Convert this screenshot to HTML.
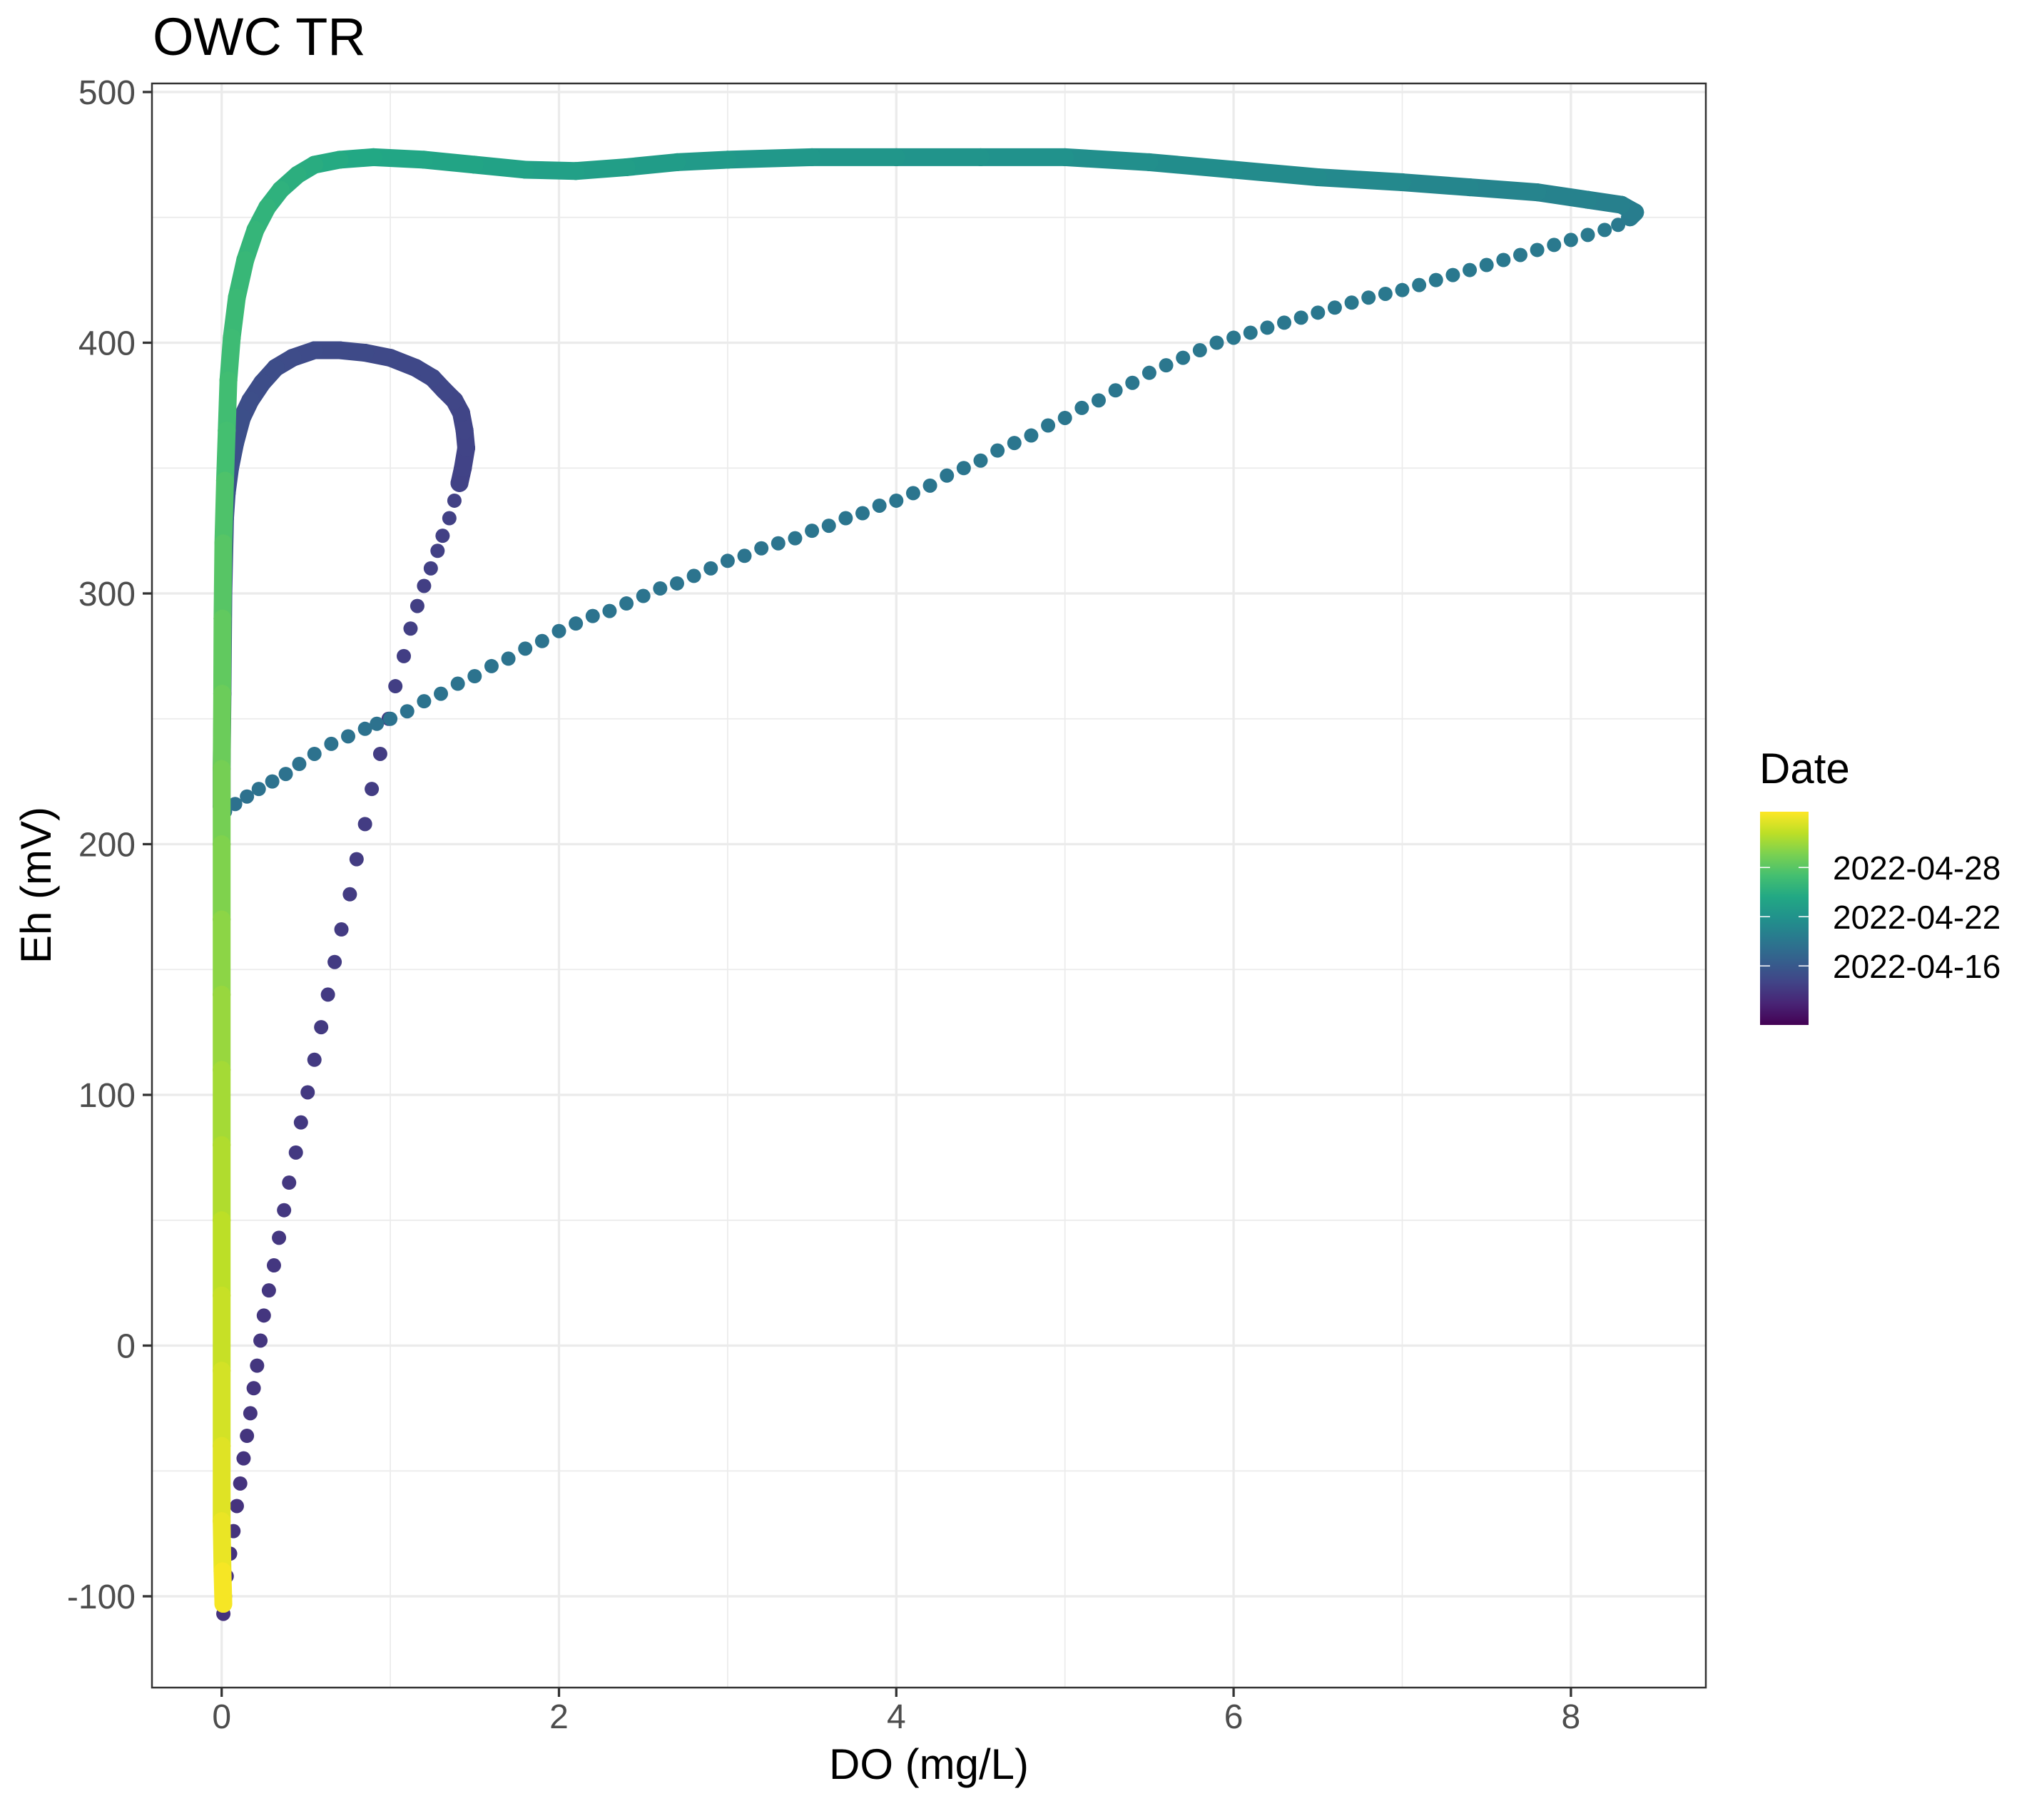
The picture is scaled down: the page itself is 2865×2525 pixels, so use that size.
<!DOCTYPE html>
<html><head><meta charset="utf-8"><style>
html,body{margin:0;padding:0;background:#fff;}
svg{display:block;font-family:"Liberation Sans",Arial,sans-serif;}
</style></head><body>
<svg id="chart" width="2865" height="2525" viewBox="0 0 2865 2525" xmlns="http://www.w3.org/2000/svg">
<defs>
<linearGradient id="vir" x1="0" y1="1" x2="0" y2="0">
<stop offset="0" stop-color="#440154"/><stop offset="0.1" stop-color="#482475"/><stop offset="0.2" stop-color="#414487"/><stop offset="0.3" stop-color="#355f8d"/><stop offset="0.4" stop-color="#2a788e"/><stop offset="0.5" stop-color="#21918c"/><stop offset="0.6" stop-color="#22a884"/><stop offset="0.7" stop-color="#44bf70"/><stop offset="0.8" stop-color="#7ad151"/><stop offset="0.9" stop-color="#bddf26"/><stop offset="1" stop-color="#fde725"/>
</linearGradient>
<clipPath id="panelClip"><rect x="213" y="117" width="2178" height="2249"/></clipPath>
</defs>
<rect x="0" y="0" width="2865" height="2525" fill="#fff"/>
<text x="214" y="77" font-size="74" fill="#000">OWC TR</text>
<g id="grid"></g>
<g id="marks" clip-path="url(#panelClip)"></g>
<rect x="213" y="117" width="2178" height="2249" fill="none" stroke="#333" stroke-width="2.5"/>
<g id="axes"></g>
<text x="1302" y="2494" font-size="60" text-anchor="middle" fill="#000">DO (mg/L)</text>
<text transform="translate(71,1241) rotate(-90)" font-size="60" text-anchor="middle" fill="#000">Eh (mV)</text>
<g id="legend">
<text x="2466" y="1098" font-size="60" fill="#000">Date</text>
<rect x="2467" y="1138" width="68" height="299" fill="url(#vir)"/>
</g>
</svg>
<script>
const xTicks = [0, 2, 4, 6, 8];
const xMinor = [1, 3, 5, 7];
const yTicks = [-100, 0, 100, 200, 300, 400, 500];
const yMinor = [-50, 50, 150, 250, 350, 450];
const legendDays = [16, 22, 28];
const legendLabels = ["2022-04-16", "2022-04-22", "2022-04-28"];

// segment 1: early diagonal (sparse dots)
const purpleDO = [0.01,0.02,0.03,0.05,0.07,0.09,0.11,0.13,0.15,0.17,0.19,0.21,0.23,0.25,0.28,0.31,0.34,0.37,0.40,0.44,0.47,0.51,0.55,0.59,0.63,0.67,0.71,0.76,0.80,0.85,0.89,0.94,0.99,1.03,1.08,1.12,1.16,1.20,1.24,1.28,1.31,1.35,1.38,1.41];
const purpleEh = [-107,-100,-92,-83,-74,-64,-55,-45,-36,-27,-17,-8,2,12,22,32,43,54,65,77,89,101,114,127,140,153,166,180,194,208,222,236,250,263,275,286,295,303,310,317,323,330,337,344];
// segment 2: loop (dense)
const loopDO = [1.41,1.43,1.45,1.44,1.42,1.38,1.32,1.25,1.15,1.0,0.85,0.7,0.55,0.42,0.32,0.24,0.17,0.12,0.08,0.05,0.03,0.02,0.01,0.005,0,0];
const loopEh = [344,350,358,365,372,377,381,386,390,394,396,397,397,394,390,384,377,370,360,350,340,330,300,260,230,215];
// segment 3: second diagonal (sparse dots)
const tealDO = [0.02,0.08,0.15,0.22,0.3,0.38,0.46,0.55,0.65,0.75,0.85,0.92,1.0,1.1,1.2,1.3,1.4,1.5,1.6,1.7,1.8,1.9,2.0,2.1,2.2,2.3,2.4,2.5,2.6,2.7,2.8,2.9,3.0,3.1,3.2,3.3,3.4,3.5,3.6,3.7,3.8,3.9,4.0,4.1,4.2,4.3,4.4,4.5,4.6,4.7,4.8,4.9,5.0,5.1,5.2,5.3,5.4,5.5,5.6,5.7,5.8,5.9,6.0,6.1,6.2,6.3,6.4,6.5,6.6,6.7,6.8,6.9,7.0,7.1,7.2,7.3,7.4,7.5,7.6,7.7,7.8,7.9,8.0,8.1,8.2,8.28];
const tealEh = [213,216,219,222,225,228,232,236,240,243,246,248,250,253,257,260,264,267,271,274,278,281,285,288,291,293,296,299,302,304,307,310,313,315,318,320,322,325,327,330,332,335,337,340,343,347,350,353,357,360,363,367,370,374,377,381,384,388,391,394,397,400,402,404,406,408,410,412,414,416,418,419.5,421,423,425,427,429,431,433,435,437,439,441,443,445,447];
// segment 4: top band (dense)
const topDO = [8.35,8.38,8.3,8.1,7.8,7.4,7.0,6.5,6.0,5.5,5.0,4.5,4.0,3.5,3.0,2.7,2.4,2.1,1.8,1.5,1.2,0.9,0.7,0.55,0.45,0.35,0.27,0.2,0.14,0.09,0.06,0.04,0.03,0.02];
const topEh = [450,452,455,457,460,462,464,466,469,472,474,474,474,474,473,472,470,468.5,469,471,473,474,473,471,467,461,454,445,433,418,402,385,365,345];
// segment 5: vertical at DO≈0 (dense)
const vertDO = [0.02,0.01,0.005,0.003,0,0,0,0,0,0,0,0,0,0,0,0.005,0.01];
const vertEh = [345,320,290,260,230,200,170,140,110,80,50,20,-10,-40,-70,-90,-103];
// day ranges (April day number) for each segment
const segDayStart = [12.5, 13.8, 18.5, 19.3, 27.0];
const segDayEnd   = [13.8, 15.5, 19.3, 27.0, 34.5];

const NS = "http://www.w3.org/2000/svg";
const X = v => 310.7 + v * 236.4;
const Y = v => 129 + (500 - v) * 3.515;
const DAY0 = 8.8, DAY1 = 34.8;
const LY = d => 1437 - (d - DAY0) / (DAY1 - DAY0) * 299;
const stops = ["#440154","#482475","#414487","#355f8d","#2a788e","#21918c","#22a884","#44bf70","#7ad151","#bddf26","#fde725"];
function hex(c){return [parseInt(c.substr(1,2),16),parseInt(c.substr(3,2),16),parseInt(c.substr(5,2),16)];}
function viridis(t){
  t = Math.max(0, Math.min(1, t));
  const p = t * 10, i = Math.min(9, Math.floor(p)), f = p - i;
  const a = hex(stops[i]), b = hex(stops[i+1]);
  return "rgb(" + a.map((v,k)=>Math.round(v + (b[k]-v)*f)).join(",") + ")";
}
function mk(tag, attrs, parent){
  const e = document.createElementNS(NS, tag);
  for (const k in attrs) e.setAttribute(k, attrs[k]);
  parent.appendChild(e);
  return e;
}
const grid = document.getElementById("grid");
const axes = document.getElementById("axes");
const marks = document.getElementById("marks");
const legend = document.getElementById("legend");

yMinor.forEach(v => {
  const l = mk("line", {x1:213, x2:2391, y1:Y(v), y2:Y(v), stroke:"#ebebeb", "stroke-width":1.7}, grid);
  
  
});
xMinor.forEach(v => {
  const l = mk("line", {x1:X(v), x2:X(v), y1:117, y2:2366, stroke:"#ebebeb", "stroke-width":1.7}, grid);
  
  
});
yTicks.forEach(v => {
  const l = mk("line", {x1:213, x2:2391, y1:Y(v), y2:Y(v), stroke:"#ebebeb", "stroke-width":3.3}, grid);
  
  
  const t = mk("line", {x1:200, x2:213, y1:Y(v), y2:Y(v), stroke:"#333", "stroke-width":3.3}, axes);
  
  
  const tx = mk("text", {x:190, y:Y(v)+17, "font-size":48, fill:"#4d4d4d", "text-anchor":"end"}, axes);
  tx.textContent = String(v);
  
  
});
xTicks.forEach(v => {
  const l = mk("line", {x1:X(v), x2:X(v), y1:117, y2:2366, stroke:"#ebebeb", "stroke-width":3.3}, grid);
  
  
  const t = mk("line", {x1:X(v), x2:X(v), y1:2366, y2:2379, stroke:"#333", "stroke-width":3.3}, axes);
  
  
  const tx = mk("text", {x:X(v), y:2423, "font-size":48, fill:"#4d4d4d", "text-anchor":"middle"}, axes);
  tx.textContent = String(v);
  
  
});

const segments = [
  {dx: purpleDO, ey: purpleEh, dense: false, name: "early-diagonal"},
  {dx: loopDO, ey: loopEh, dense: true, name: "loop"},
  {dx: tealDO, ey: tealEh, dense: false, name: "second-diagonal"},
  {dx: topDO, ey: topEh, dense: true, name: "top-band"},
  {dx: vertDO, ey: vertEh, dense: true, name: "zero-do-vertical"}
];
const R = 10;
const BAND = 25;
segments.forEach((s, si) => {
  const n = s.dx.length;
  const g = mk("g", {}, marks);
  
  
  for (let i = 0; i < n; i++) {
    const day = segDayStart[si] + (segDayEnd[si] - segDayStart[si]) * (n > 1 ? i / (n - 1) : 0);
    const col = viridis((day - DAY0) / (DAY1 - DAY0));
    if (s.dense && i > 0) {
      const ln = mk("line", {x1:X(s.dx[i-1]), y1:Y(s.ey[i-1]), x2:X(s.dx[i]), y2:Y(s.ey[i]), stroke:col, "stroke-width":BAND, "stroke-linecap":"round"}, g);
      
      
    }
    const c = mk("circle", {cx:X(s.dx[i]), cy:Y(s.ey[i]), r:s.dense ? BAND/2 : R, fill:col}, g);
    
    
  }
});

legendDays.forEach((d, i) => {
  const y = LY(d);
  const a = mk("line", {x1:2467, x2:2481, y1:y, y2:y, stroke:"#fff", "stroke-width":1.5}, legend);
  
  
  const b = mk("line", {x1:2521, x2:2535, y1:y, y2:y, stroke:"#fff", "stroke-width":1.5}, legend);
  
  
  const t = mk("text", {x:2569, y:y+17, "font-size":46, fill:"#000"}, legend);
  t.textContent = legendLabels[i];
  
  
});
</script>
</body></html>
